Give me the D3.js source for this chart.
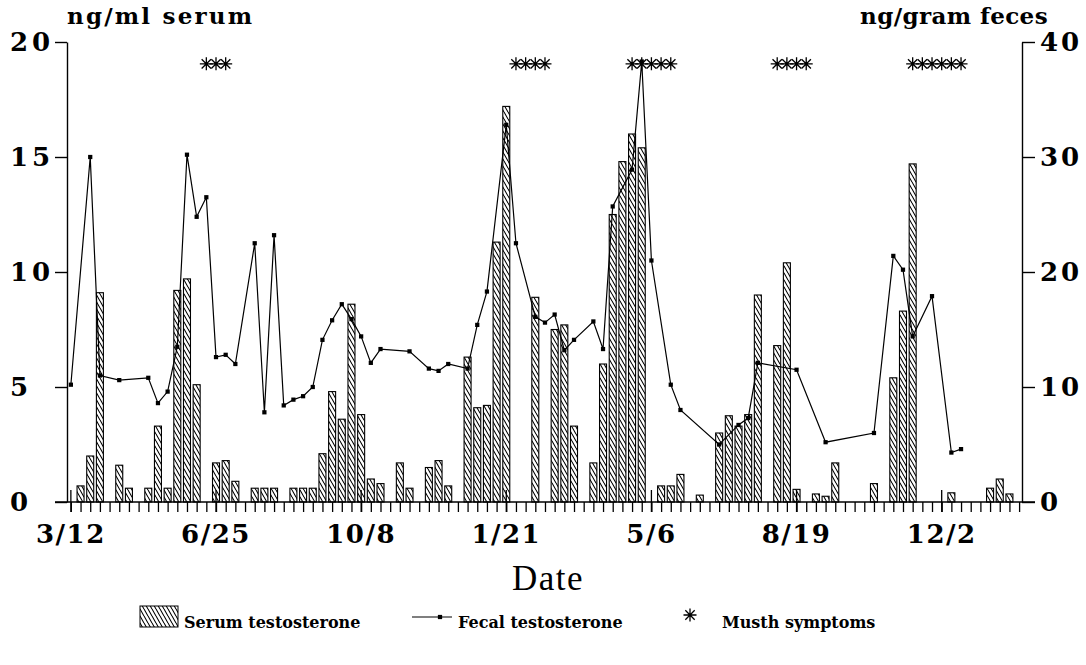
<!DOCTYPE html>
<html>
<head>
<meta charset="utf-8">
<script src="https://cdn.jsdelivr.net/npm/d3@7"></script>
<style>
  body { margin: 0; background: #fff; }
  text { fill: #000; }
</style>
</head>
<body>
<svg id="chart" width="1086" height="665"></svg>
<script>
// Weekly samples, counted in weeks from 3/12
const serumWeeks  = [1, 2, 3, 5, 6, 8, 9, 10, 11, 12, 13, 15, 16, 17, 19, 20, 21, 23, 24, 25,
                     26, 27, 28, 29, 30, 31, 32, 34, 35, 37, 38, 39, 41, 42, 43, 44, 45, 48, 50, 51,
                     52, 54, 55, 56, 57, 58, 59, 61, 62, 63, 65, 67, 68, 69, 70, 71, 73, 74, 75, 77,
                     78, 79, 83, 85, 86, 87, 91, 95, 96, 97];
const serumValues = [0.7, 2.0, 9.1, 1.6, 0.6, 0.6, 3.3, 0.6, 9.2, 9.7, 5.1, 1.7, 1.8, 0.9, 0.6, 0.6, 0.6, 0.6, 0.6, 0.6,
                     2.1, 4.8, 3.6, 8.6, 3.8, 1.0, 0.8, 1.7, 0.6, 1.5, 1.8, 0.7, 6.3, 4.1, 4.2, 11.3, 17.2, 8.9, 7.5, 7.7,
                     3.3, 1.7, 6.0, 12.5, 14.8, 16.0, 15.4, 0.7, 0.7, 1.2, 0.3, 3.0, 3.75, 3.3, 3.8, 9.0, 6.8, 10.4, 0.55, 0.35,
                     0.25, 1.7, 0.8, 5.4, 8.3, 14.7, 0.4, 0.6, 1.0, 0.35];

const fecalWeeks  = [0, 2, 3, 5, 8, 9, 10, 11, 12, 13, 14, 15, 16, 17, 19, 20, 21, 22, 23, 24,
                     25, 26, 27, 28, 29, 30, 31, 32, 35, 37, 38, 39, 41, 42, 43, 45, 46, 48, 49, 50,
                     51, 52, 54, 55, 56, 58, 59, 60, 62, 63, 67, 69, 70, 71, 75, 78, 83, 85, 86, 87,
                     89, 91, 92];
const fecalValues = [10.2, 30.0, 11.0, 10.6, 10.8, 8.6, 9.6, 13.5, 30.2, 24.8, 26.5, 12.6, 12.8, 12.0, 22.5, 7.8, 23.2, 8.4, 8.9, 9.2,
                     10.0, 14.1, 15.8, 17.2, 15.9, 14.4, 12.1, 13.3, 13.1, 11.6, 11.4, 12.0, 11.6, 15.4, 18.3, 32.8, 22.5, 16.1, 15.6, 16.3,
                     13.2, 14.1, 15.7, 13.3, 25.7, 28.9, 38.3, 21.0, 10.2, 8.0, 5.0, 6.7, 7.3, 12.1, 11.5, 5.2, 6.0, 21.4, 20.2, 14.4,
                     17.9, 4.3, 4.6];

// Weeks in which musth symptoms were recorded
const musthWeeks = [14, 15, 16, 46, 47, 48, 49, 58, 59, 60, 61, 62, 73, 74, 75, 76, 87, 88, 89, 90, 91, 92];
const musthLevel = 19.05;            // drawn just under the top of the serum scale

const dateLabels = ["3/12", "6/25", "10/8", "1/21", "5/6", "8/19", "12/2"];
const labelEvery = 15;               // weeks between dated labels
const lastWeek = 98;
const serumTicks = [0, 5, 10, 15, 20];
const fecalTicks = [0, 10, 20, 30, 40];

const serum = serumWeeks.map((w, i) => ({ week: w, value: serumValues[i] }));
const fecal = fecalWeeks.map((w, i) => ({ week: w, value: fecalValues[i] }));

const svg = d3.select("#chart");
const labelFont = "'DejaVu Serif', serif";

const x  = d3.scaleLinear().domain([-0.4, 98.3]).range([67, 1022]);
const yL = d3.scaleLinear().domain([0, 20]).range([502, 42]);
const yR = d3.scaleLinear().domain([0, 40]).range([502, 42]);

// Diagonal hatching for the serum bars
const defs = svg.append("defs");
const hatch = defs.append("pattern")
  .attr("id", "hatch")
  .attr("patternUnits", "userSpaceOnUse")
  .attr("width", 4).attr("height", 7);
hatch.append("rect").attr("width", 4).attr("height", 7).attr("fill", "#fff");
hatch.append("path")
  .attr("d", "M0,0 L4,7 M-4,0 L0,7 M4,0 L8,7")
  .attr("stroke", "#000").attr("stroke-width", 1.1).attr("fill", "none");

// Serum bars
const barW = 7;
svg.append("g").selectAll("rect")
  .data(serum)
  .join("rect")
  .attr("x", d => x(d.week) - barW / 2)
  .attr("y", d => yL(d.value))
  .attr("width", barW)
  .attr("height", d => yL(0) - yL(d.value))
  .attr("fill", "url(#hatch)")
  .attr("stroke", "#000")
  .attr("stroke-width", 1.1);

// Fecal line with small square markers
const marker = d3.symbol().type(d3.symbolSquare).size(18)();
svg.append("path")
  .datum(fecal)
  .attr("fill", "none")
  .attr("stroke", "#000")
  .attr("stroke-width", 1.2)
  .attr("d", d3.line().x(d => x(d.week)).y(d => yR(d.value)));
svg.append("g").selectAll("path")
  .data(fecal)
  .join("path")
  .attr("transform", d => `translate(${x(d.week)},${yR(d.value)})`)
  .attr("d", marker)
  .attr("fill", "#000");

// Eight-armed asterisk used for musth symptoms
const asterisk = {
  draw(ctx, size) {
    const r = Math.sqrt(size) / 2, q = r * 0.72;
    ctx.moveTo(-r, 0); ctx.lineTo(r, 0);
    ctx.moveTo(0, -r); ctx.lineTo(0, r);
    ctx.moveTo(-q, -q); ctx.lineTo(q, q);
    ctx.moveTo(-q, q); ctx.lineTo(q, -q);
  }
};
const asteriskPath = d3.symbol().type(asterisk).size(169)();
svg.append("g").selectAll("path")
  .data(musthWeeks)
  .join("path")
  .attr("transform", w => `translate(${x(w)},${yL(musthLevel)})`)
  .attr("d", asteriskPath)
  .attr("fill", "none")
  .attr("stroke", "#000")
  .attr("stroke-width", 1.3);

// Bottom axis: weekly ticks, dated labels every 15 weeks
const xAxis = d3.axisBottom(x)
  .tickValues(d3.range(0, lastWeek + 1))
  .tickSize(10)
  .tickFormat("");
const gx = svg.append("g").attr("transform", `translate(0,${yL(0)})`).call(xAxis);
gx.select(".domain").remove();
gx.selectAll(".tick line").attr("stroke-width", 1.3);
svg.append("line")
  .attr("x1", 55).attr("x2", 1035)
  .attr("y1", yL(0)).attr("y2", yL(0))
  .attr("stroke", "#000").attr("stroke-width", 1.5);
const labelled = dateLabels.map((t, i) => ({ week: i * labelEvery, text: t }));
svg.append("g").selectAll("line")
  .data(labelled)
  .join("line")
  .attr("x1", d => x(d.week)).attr("x2", d => x(d.week))
  .attr("y1", yL(0) - 12).attr("y2", yL(0) + 10)
  .attr("stroke", "#000").attr("stroke-width", 1.3);
svg.append("g").selectAll("text")
  .data(labelled)
  .join("text")
  .attr("x", d => x(d.week))
  .attr("y", 543)
  .attr("text-anchor", "middle")
  .attr("font-family", labelFont)
  .attr("font-weight", "bold")
  .attr("font-size", 26)
  .attr("letter-spacing", 1.5)
  .text(d => d.text);

// Left axis (serum)
const gl = svg.append("g").attr("transform", `translate(${x.range()[0]},0)`)
  .call(d3.axisLeft(yL).tickValues(serumTicks).tickSize(12).tickSizeOuter(0).tickFormat(""));
gl.selectAll("path, line").attr("stroke-width", 1.4);
svg.append("g").selectAll("text")
  .data(serumTicks)
  .join("text")
  .attr("x", 10)
  .attr("y", d => yL(d))
  .attr("dy", "0.36em")
  .attr("font-family", labelFont)
  .attr("font-weight", "bold")
  .attr("font-size", 26)
  .attr("letter-spacing", 4)
  .text(d => d);

// Right axis (fecal)
const gr = svg.append("g").attr("transform", `translate(${x.range()[1]},0)`)
  .call(d3.axisRight(yR).tickValues(fecalTicks).tickSize(13).tickSizeOuter(0).tickFormat(""));
gr.selectAll("path, line").attr("stroke-width", 1.4);
svg.append("g").selectAll("text")
  .data(fecalTicks)
  .join("text")
  .attr("x", 1040)
  .attr("y", d => yR(d))
  .attr("dy", "0.36em")
  .attr("font-family", labelFont)
  .attr("font-weight", "bold")
  .attr("font-size", 26)
  .attr("letter-spacing", 3)
  .text(d => d);

// Axis titles
svg.append("text")
  .attr("x", 67).attr("y", 24)
  .attr("font-family", labelFont).attr("font-weight", "bold")
  .attr("font-size", 23).attr("letter-spacing", 2.2)
  .text("ng/ml serum");
svg.append("text")
  .attr("x", 1048).attr("y", 24)
  .attr("text-anchor", "end")
  .attr("font-family", labelFont).attr("font-weight", "bold")
  .attr("font-size", 23).attr("letter-spacing", 0.4)
  .text("ng/gram feces");
svg.append("text")
  .attr("x", 548).attr("y", 590)
  .attr("text-anchor", "middle")
  .attr("font-family", "'Liberation Serif', serif")
  .attr("font-size", 35)
  .attr("letter-spacing", 1.5)
  .text("Date");

// Legend
const legend = svg.append("g").attr("font-family", labelFont).attr("font-weight", "bold").attr("font-size", 16);
legend.append("rect")
  .attr("x", 140).attr("y", 606).attr("width", 38).attr("height", 21)
  .attr("fill", "url(#hatch)").attr("stroke", "#000").attr("stroke-width", 1);
legend.append("text").attr("x", 184).attr("y", 628).text("Serum testosterone");
legend.append("line")
  .attr("x1", 412).attr("x2", 452).attr("y1", 617).attr("y2", 617)
  .attr("stroke", "#000").attr("stroke-width", 1.2);
legend.append("path")
  .attr("transform", "translate(440,617)")
  .attr("d", marker).attr("fill", "#000");
legend.append("text").attr("x", 458).attr("y", 628).text("Fecal testosterone");
legend.append("path")
  .attr("transform", "translate(690,615)")
  .attr("d", asteriskPath)
  .attr("fill", "none").attr("stroke", "#000").attr("stroke-width", 1.3);
legend.append("text").attr("x", 722).attr("y", 628).text("Musth symptoms");
</script>
</body>
</html>
